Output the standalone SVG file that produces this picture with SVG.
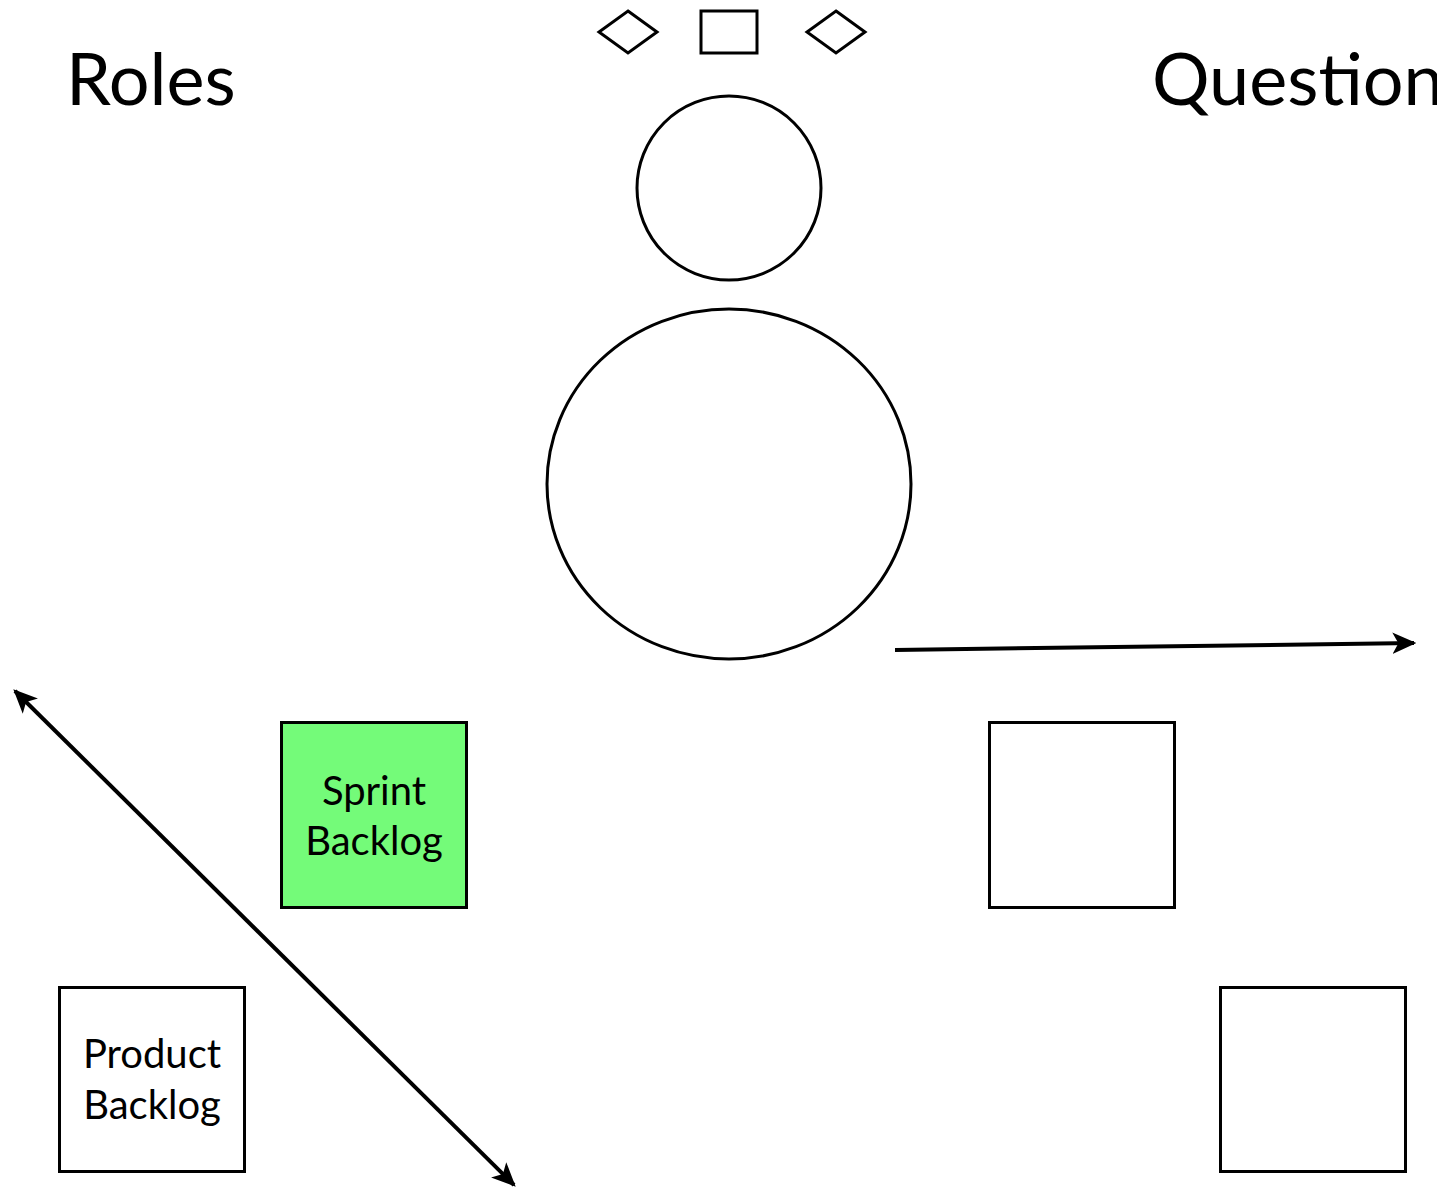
<svg xmlns="http://www.w3.org/2000/svg" width="1437" height="1193" viewBox="0 0 1437 1193">
<style>
.s{fill:#fff;stroke:#000;stroke-width:3}
.t{font-family:"Lato","Open Sans","Liberation Sans",sans-serif;fill:#000}
.lbl{font-size:40px;text-anchor:middle}
.title{font-size:72px}
.c{stroke:#000;stroke-width:4;fill:none}
</style>
<defs>
<marker id="ah" viewBox="0 0 10 10" refX="9" refY="5" markerWidth="6" markerHeight="6" orient="auto-start-reverse" markerUnits="strokeWidth">
<path d="M0,0.5 L10,5 L0,9.5 L2.5,5 Z" fill="#000"/>
</marker>
</defs>
<rect width="1437" height="1193" fill="#fff"/>
<text class="t title" x="66" y="105">Roles</text>
<text class="t title" x="1152" y="105">Question</text>
<g id="diamond1"><polygon class="s" points="628,11 657,32 628,53 599,32"/></g>
<g id="topRect"><rect class="s" x="701" y="11" width="56" height="42"/></g>
<g id="diamond2"><polygon class="s" points="836,11 865,32 836,53 807,32"/></g>
<g id="smallCircle"><circle class="s" cx="729" cy="188" r="92"/></g>
<g id="bigCircle"><ellipse class="s" cx="729" cy="484" rx="182" ry="175"/></g>
<g id="sprintBacklog"><rect x="281.5" y="722.5" width="185" height="185" fill="#74fb79" stroke="#000" stroke-width="3"/>
<text class="t lbl" x="374" y="805">Sprint</text><text class="t lbl" x="374" y="855">Backlog</text></g>
<g id="productBacklog"><rect class="s" x="59.5" y="987.5" width="185" height="184"/>
<text class="t lbl" x="152" y="1068">Product</text><text class="t lbl" x="152" y="1119">Backlog</text></g>
<g id="box3"><rect class="s" x="989.5" y="722.5" width="185" height="185"/></g>
<g id="box4"><rect class="s" x="1220.5" y="987.5" width="185" height="184"/></g>
<g id="connectors">
<line class="c" x1="895" y1="650" x2="1414" y2="643" marker-end="url(#ah)"/>
<line class="c" x1="15" y1="691" x2="514" y2="1185" marker-start="url(#ah)" marker-end="url(#ah)"/>
</g>
</svg>
